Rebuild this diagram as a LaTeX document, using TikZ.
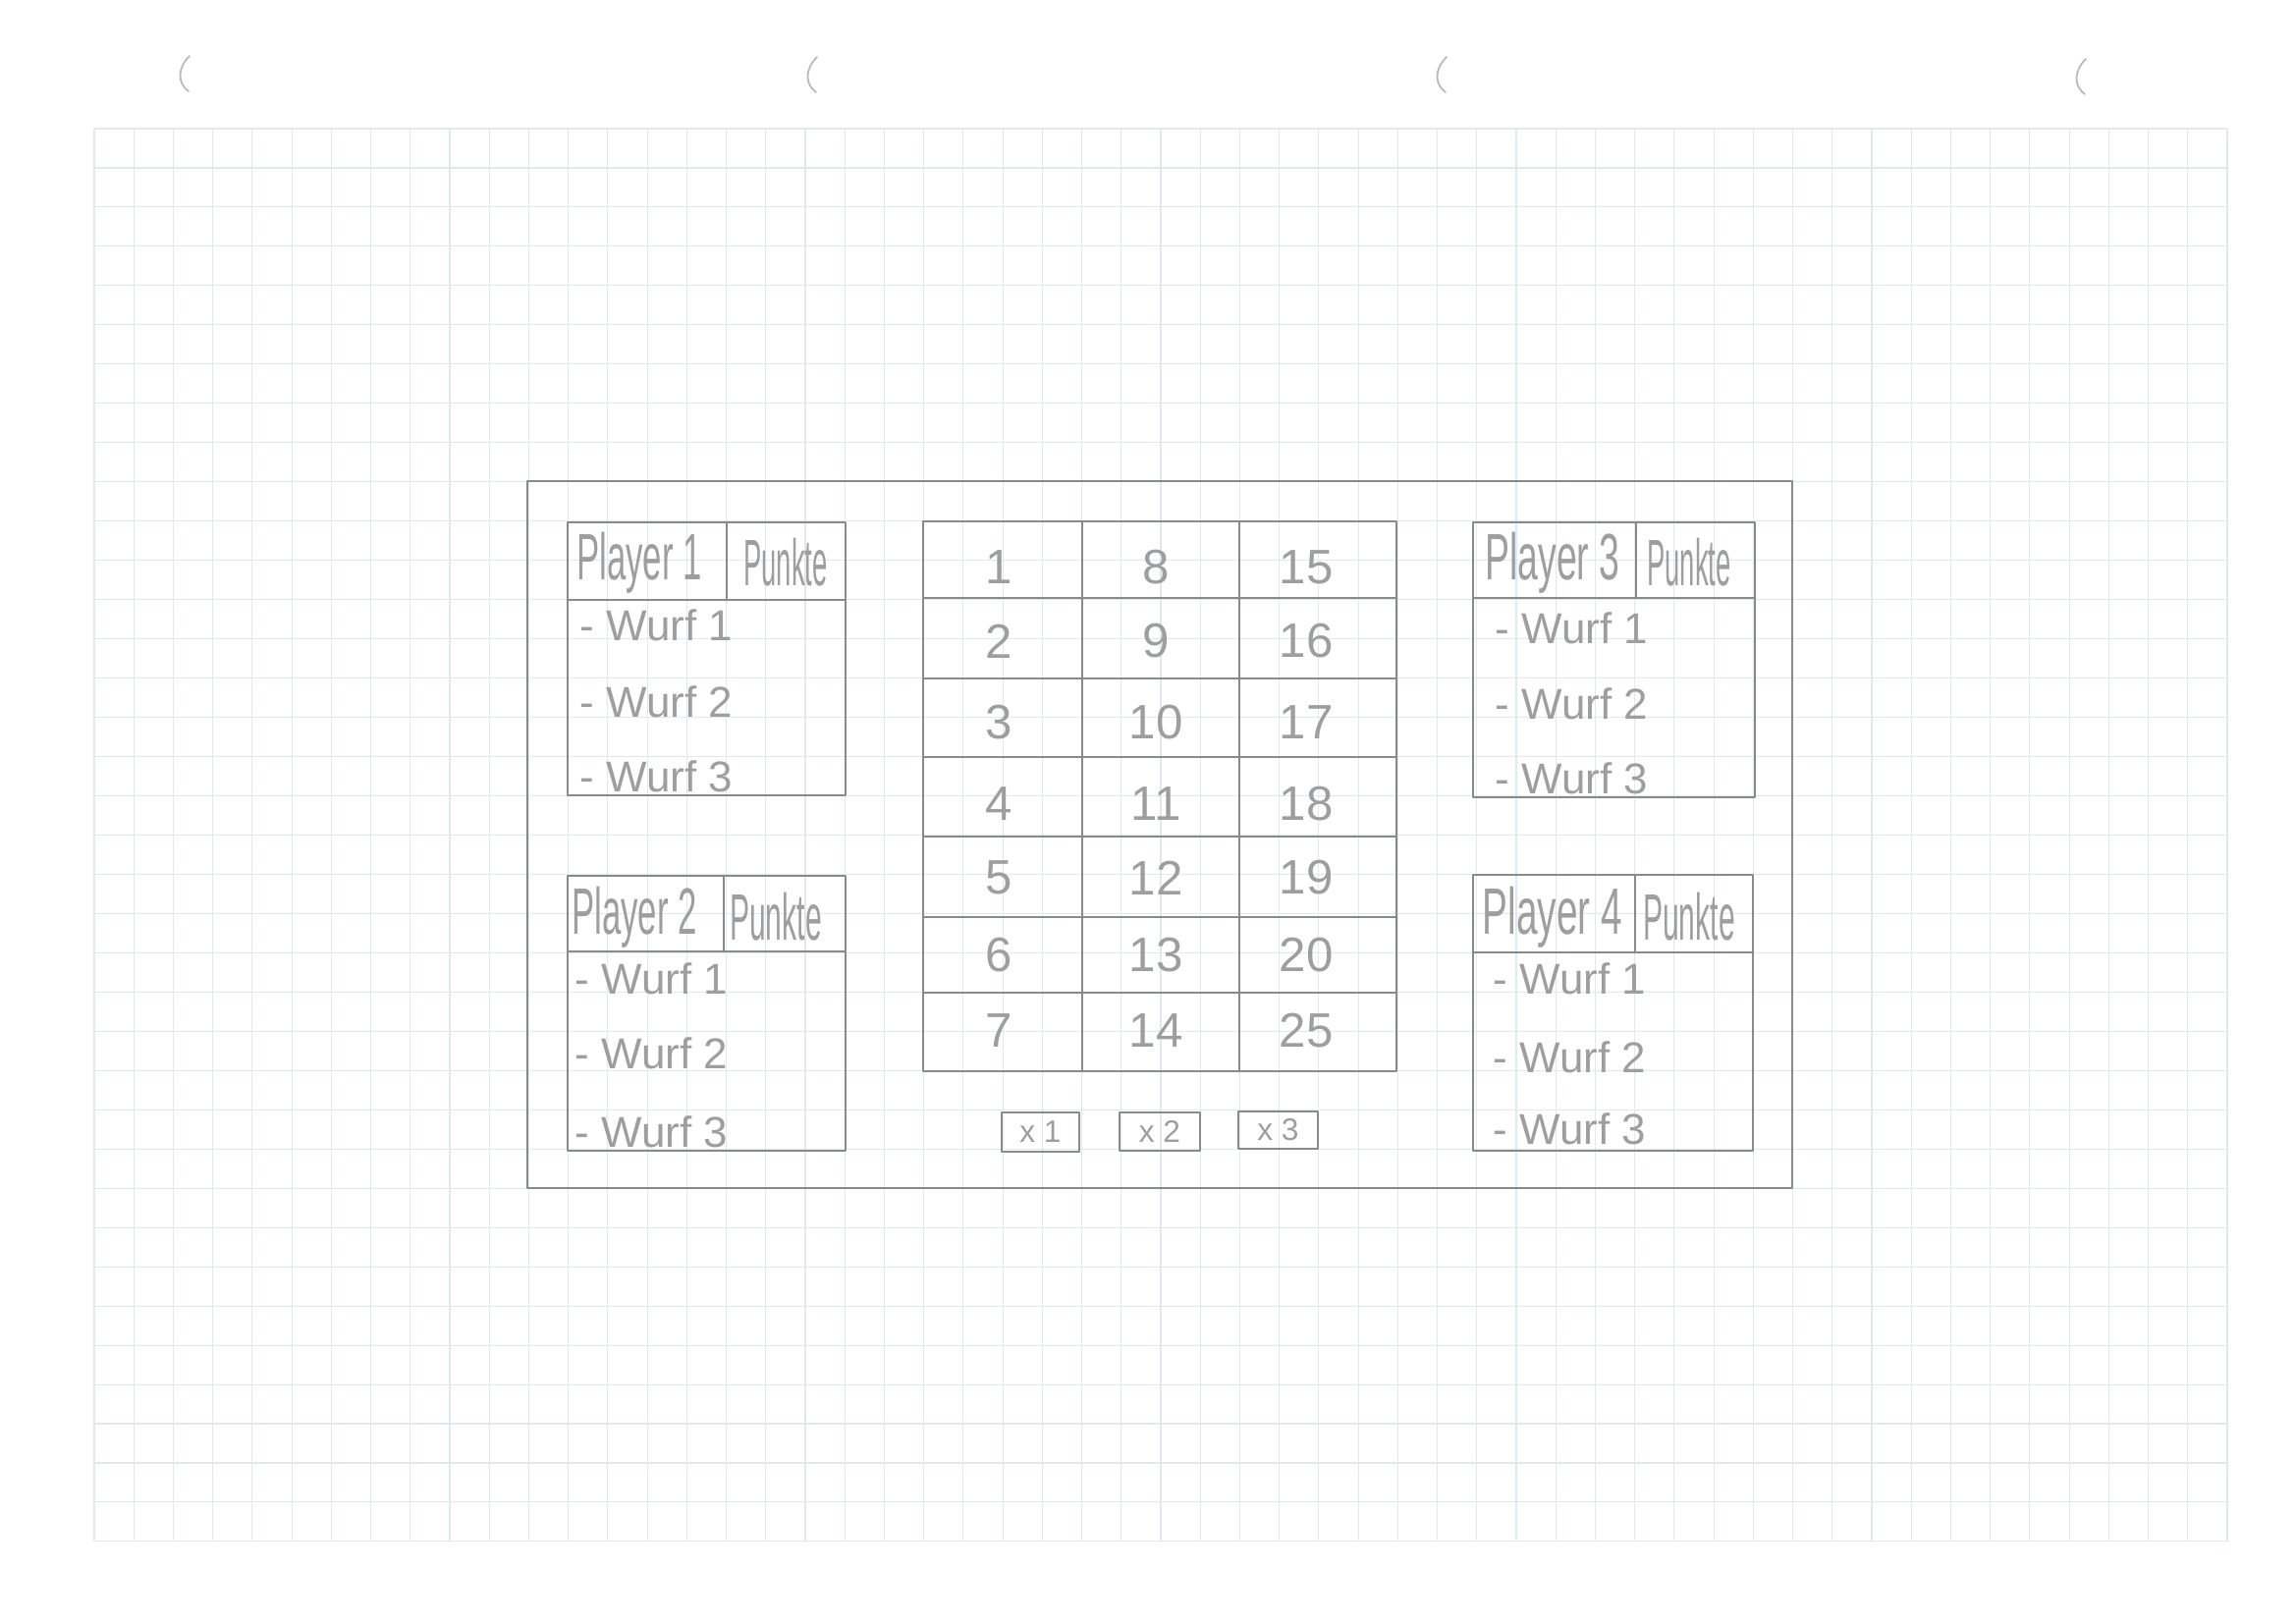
\documentclass[tikz,border=0pt]{standalone}
\usepackage{fontspec}
\setmainfont{Liberation Sans}
\usepackage{graphicx}
\definecolor{gridc}{RGB}{222,233,240}
\definecolor{pencil}{RGB}{138,138,138}
\definecolor{pentext}{RGB}{158,158,158}
\newcommand{\hwx}[2]{\scalebox{#1}[1]{#2}}
\begin{document}
\begin{tikzpicture}[x=0.01cm,y=-0.01cm,
  gridline/.style={draw=gridc, line width=0.3pt},
  pline/.style={draw=pencil, line width=0.75pt, line cap=round, line join=round},
  faint/.style={draw=pencil!60, line width=0.5pt, line cap=round},
  ptxt/.style={text=pentext, inner sep=0pt},
  head/.style={ptxt, font=\fontsize{19}{19}\selectfont},
  rowtxt/.style={ptxt, font=\fontsize{12.5}{12.5}\selectfont, anchor=west},
  num/.style={ptxt, font=\fontsize{14}{14}\selectfont},
  btntxt/.style={ptxt, font=\fontsize{9}{9}\selectfont}]

% page
\fill[white] (0,0) rectangle (2338,1654);
\useasboundingbox (0,0) rectangle (2338,1654);

% grid paper
\foreach \i in {0,...,54} \draw[gridline] ({96+\i*40.222},131) -- ({96+\i*40.222},1570);
\foreach \j in {0,...,36} \draw[gridline] (96,{131+\j*39.97}) -- (2268,{131+\j*39.97});

% punch marks at the top
\draw[faint] (193,57) .. controls (180,70) and (181,85) .. (192,93);
\draw[faint] (832,58) .. controls (819,71) and (820,86) .. (831,94);
\draw[faint] (1473,58) .. controls (1460,71) and (1461,86) .. (1472,94);
\draw[faint] (2124,60) .. controls (2111,73) and (2112,88) .. (2123,96);

% outer frame
\draw[pline] (537,490) rectangle (1825,1210);

% ---------- player tables ----------
% Player 1
\draw[pline] (578,532) rectangle (861,810);
\draw[pline] (578,611) -- (861,611);
\draw[pline] (740,532) -- (740,611);
\node[head] (p1h) at (651,573) {\hwx{0.52}{Player 1}};
\node[head] (p1p) at (800,573) {\hwx{0.41}{Punkte}};
\node[rowtxt] (p1a) at (590,637) {- Wurf 1};
\node[rowtxt] (p1b) at (590,715) {- Wurf 2};
\node[rowtxt] (p1c) at (590,791) {- Wurf 3};

% Player 2
\draw[pline] (578,892) rectangle (861,1172);
\draw[pline] (578,969) -- (861,969);
\draw[pline] (737,892) -- (737,969);
\node[head] (p2h) at (646,934) {\hwx{0.52}{Player 2}};
\node[head] (p2p) at (790,934) {\hwx{0.45}{Punkte}};
\node[rowtxt] (p2a) at (585,997) {- Wurf 1};
\node[rowtxt] (p2b) at (585,1073) {- Wurf 2};
\node[rowtxt] (p2c) at (585,1153) {- Wurf 3};

% Player 3
\draw[pline] (1500,532) rectangle (1787,812);
\draw[pline] (1500,609) -- (1787,609);
\draw[pline] (1666,532) -- (1666,609);
\node[head] (p3h) at (1581,573) {\hwx{0.56}{Player 3}};
\node[head] (p3p) at (1720,573) {\hwx{0.41}{Punkte}};
\node[rowtxt] (p3a) at (1522,640) {- Wurf 1};
\node[rowtxt] (p3b) at (1522,717) {- Wurf 2};
\node[rowtxt] (p3c) at (1522,793) {- Wurf 3};

% Player 4
\draw[pline] (1500,891) rectangle (1785,1172);
\draw[pline] (1500,970) -- (1785,970);
\draw[pline] (1665,891) -- (1665,970);
\node[head] (p4h) at (1581,934) {\hwx{0.58}{Player 4}};
\node[head] (p4p) at (1720,934) {\hwx{0.45}{Punkte}};
\node[rowtxt] (p4a) at (1520,997) {- Wurf 1};
\node[rowtxt] (p4b) at (1520,1077) {- Wurf 2};
\node[rowtxt] (p4c) at (1520,1150) {- Wurf 3};

% ---------- centre number board ----------
\draw[pline] (940,531) rectangle (1422,1091);
\foreach \xx in {1102,1262} \draw[pline] (\xx,531) -- (\xx,1091);
\foreach \yy in {609,691,771,852,934,1011} \draw[pline] (940,\yy) -- (1422,\yy);

\foreach \n/\yy in {1/578,2/653,3/736,4/819,5/894,6/973,7/1050}
  \node[num] (c1r\n) at (1017,\yy) {\n};
\foreach \n/\m/\yy in {1/8/578,2/9/653,3/10/736,4/11/819,5/12/894,6/13/973,7/14/1050}
  \node[num] (c2r\n) at (1177,\yy) {\m};
\foreach \n/\m/\yy in {1/15/578,2/16/653,3/17/736,4/18/819,5/19/894,6/20/973,7/25/1050}
  \node[num] (c3r\n) at (1330,\yy) {\m};

% ---------- multiplier buttons ----------
\draw[pline] (1020,1133) rectangle (1099,1173);
\draw[pline] (1140,1133) rectangle (1222,1172);
\draw[pline] (1261,1132) rectangle (1342,1170);
\node[btntxt] (b1) at (1059.5,1153) {x 1};
\node[btntxt] (b2) at (1181,1152.5) {x 2};
\node[btntxt] (b3) at (1301.5,1151) {x 3};
\end{tikzpicture}
\end{document}
